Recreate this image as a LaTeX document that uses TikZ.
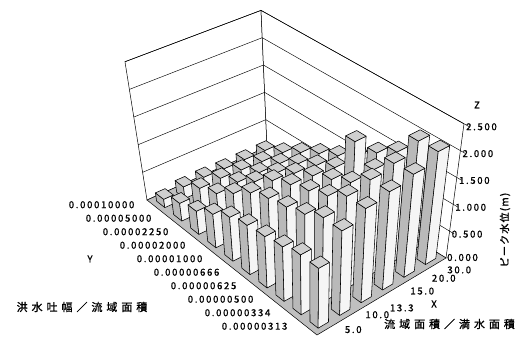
\documentclass[tikz,border=0pt]{standalone}
\usepackage{fontspec}
\usetikzlibrary{calc}
\newfontfamily\jpf[LetterSpace=36,FakeBold=1.2]{Noto Sans CJK JP}
\newfontfamily\numf[LetterSpace=18,FakeBold=1.2]{Noto Sans CJK JP}
\newfontfamily\ttlf[LetterSpace=12,FakeBold=1.2]{Noto Sans CJK JP}
% projection: u along front->right (X), v along front->left (Y), z height
\newcommand\mkpt[4]{%
  \pgfmathsetmacro\bxx{317+129*(#2)-170*(#3)-9*(#2)*(#3)}%
  \pgfmathsetmacro\byy{335-77*(#2)-135*(#3)+24*(#2)*(#3)}%
  \pgfmathsetmacro\pXx{\bxx+((#4)/2.5)*(-41.7+0.1338*\bxx)}%
  \pgfmathsetmacro\pYy{\byy-(#4)*(55.3-0.0054*(\bxx-147))}%
  \coordinate (#1) at (\pXx,\pYy);}
\def\Hdata{{1.10,1.10,1.00,0.94,0.90,0.80,0.61,0.42,0.32,0.15,
1.56,1.56,1.38,1.27,1.19,1.05,0.80,0.56,0.42,0.21,
1.74,1.73,1.50,1.36,1.24,1.08,0.83,0.59,0.43,0.22,
1.82,1.81,1.53,1.36,1.20,1.02,0.80,0.58,0.41,0.21,
1.91,1.89,1.55,1.85,1.15,0.97,0.78,0.57,0.39,0.21,
2.10,2.08,1.66,1.43,1.16,0.95,0.78,0.59,0.38,0.21}}
\tikzset{
  wall/.style={draw=black, line width=0.5pt, fill=white},
  grid/.style={draw=black, line width=0.45pt},
  floorsty/.style={draw=black, line width=0.5pt, fill=gray!50},
  barL/.style={draw=black, line width=0.55pt, fill=gray!55, line join=round},
  barR/.style={draw=black, line width=0.55pt, fill=gray!8, line join=round},
  barT/.style={draw=black, line width=0.55pt, fill=gray!38, line join=round},
  numlab/.style={font=\numf\fontsize{9.5}{11}\selectfont, inner sep=0pt},
  jplab/.style={font=\jpf\fontsize{11}{13}\selectfont, inner sep=0pt},
  axlab/.style={font=\numf\fontsize{9.5}{11}\selectfont, inner sep=0pt}
}
\begin{document}
\begin{tikzpicture}[x=1pt, y=-1pt]
\useasboundingbox (0,0) rectangle (521,347);
% box corners
\mkpt{F0}{0}{0}{0}
\mkpt{R0}{1}{0}{0}
\mkpt{L0}{0}{1}{0}
\mkpt{B0}{1}{1}{0}
\mkpt{R1}{1}{0}{2.5}
\mkpt{L1}{0}{1}{2.5}
\mkpt{B1}{1}{1}{2.5}
% walls
\path[wall] (L0) -- (B0) -- (B1) -- (L1) -- cycle;
\path[wall] (B0) -- (R0) -- (R1) -- (B1) -- cycle;
% grid lines and z labels
\foreach \z/\lab in {0.5/0.500,1.0/1.000,1.5/1.500,2.0/2.000,2.5/2.500}{
  \mkpt{gl}{0}{1}{\z}
  \mkpt{gb}{1}{1}{\z}
  \mkpt{gr}{1}{0}{\z}
  \draw[grid] (gl) -- (gb) -- (gr) -- ($(gr)!-0.025!(gb)$);
  \node[numlab, anchor=west] at ([xshift=2pt, yshift=-3pt]gr) {\lab};
}
\node[numlab, anchor=west] (z0) at ([xshift=1pt, yshift=0.5pt]R0) {0.000};
% floor
\path[floorsty] (F0) -- (R0) -- (B0) -- (L0) -- cycle;
% bars, back to front
\foreach \i in {5,4,...,0}{
  \foreach \j in {9,8,...,0}{
    \pgfmathsetmacro\hh{\Hdata[\i*10+\j]}
    \pgfmathsetmacro\ua{(\i+0.26)/6}
    \pgfmathsetmacro\ub{(\i+0.74)/6}
    \pgfmathsetmacro\va{(\j+0.26)/10}
    \pgfmathsetmacro\vb{(\j+0.74)/10}
    \mkpt{a0}{\ua}{\va}{0}
    \mkpt{b0}{\ub}{\va}{0}
    \mkpt{c0}{\ua}{\vb}{0}
    \mkpt{a1}{\ua}{\va}{\hh}
    \mkpt{b1}{\ub}{\va}{\hh}
    \mkpt{c1}{\ua}{\vb}{\hh}
    \mkpt{d1}{\ub}{\vb}{\hh}
    \path[barL] (a0) -- (c0) -- (c1) -- (a1) -- cycle;
    \path[barR] (a0) -- (b0) -- (b1) -- (a1) -- cycle;
    \path[barT] (a1) -- (b1) -- (d1) -- (c1) -- cycle;
  }
}
% y labels
\foreach \j/\lab in {0/0.00000313,1/0.00000334,2/0.00000500,3/0.00000625,4/0.00000666,5/0.00001000,6/0.00002000,7/0.00002250,8/0.00005000,9/0.00010000}{
  \pgfmathsetmacro\vv{(\j+0.5)/10}
  \mkpt{yl}{0}{\vv}{0}
  \node[numlab, anchor=east] at ([xshift=-21pt, yshift=2pt]yl) {\lab};
}
% x labels
\foreach \i/\lab/\dx/\dy in {0/5.0/17/-1,1/10.0/16/1,2/13.3/19/-5,3/15.0/18/-1,4/20.0/18/-1,5/30.0/12/-5.5}{
  \pgfmathsetmacro\uu{(\i+0.5)/6}
  \mkpt{xl}{\uu}{0}{0}
  \node[numlab, anchor=west] at ([xshift=\dx pt, yshift=\dy pt]xl) {\lab};
}
% axis letters and titles
\node[axlab] (ax) at (434,304) {X};
\node[axlab] (ay) at (90,259) {Y};
\node[axlab] (az) at (477,105) {Z};
\node[jplab] (ty) at (82,307) {洪水吐幅／流域面積};
\node[jplab, anchor=west] (tx) at (384,324) {流域面積／満水面積};
\node[font=\ttlf\fontsize{10}{12}\selectfont, inner sep=0pt, rotate=90] (tz) at (505,230) {ピーク水位(m)};
\end{tikzpicture}
\end{document}
